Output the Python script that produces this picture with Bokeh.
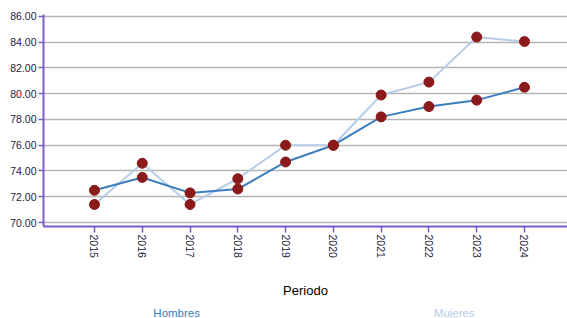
from bokeh.plotting import figure
from bokeh.models import FixedTicker, NumeralTickFormatter, Range1d
from bokeh.layouts import column
from bokeh.core.properties import value
from bokeh.embed import file_html
from bokeh.resources import INLINE

years = [2015, 2016, 2017, 2018, 2019, 2020, 2021, 2022, 2023, 2024]
hombres = [72.5, 73.5, 72.3, 72.6, 74.7, 76.0, 78.2, 79.0, 79.5, 80.5]
mujeres = [71.4, 74.6, 71.4, 73.4, 76.0, 76.0, 79.9, 80.9, 84.4, 84.05]
y_ticks = [70, 72, 74, 76, 78, 80, 82, 84, 86]
series_names = ["Hombres", "Mujeres"]
legend_x = [2016.72, 2022.53]

FONT = "Liberation Sans"
AXIS_COLOR = "#7b5cc6"
H_COLOR = "#3d7dbd"
M_COLOR = "#b6cce8"
DOT = "#8b1a1a"

xr = Range1d(2013.933, 2024.9)
p = figure(width=567, height=300, output_backend="svg", toolbar_location=None,
           x_range=xr, y_range=Range1d(69.69, 86.15),
           min_border_left=43, min_border_right=0, min_border_top=14, min_border_bottom=72)
p.outline_line_color = None
p.background_fill_color = "white"

p.line(years, mujeres, line_color=M_COLOR, line_width=2)
p.line(years, hombres, line_color=H_COLOR, line_width=2)
p.scatter(years, mujeres, size=10, fill_color=DOT, line_color=DOT)
p.scatter(years, hombres, size=10, fill_color=DOT, line_color=DOT)

# y axis
p.yaxis.ticker = FixedTicker(ticks=y_ticks)
p.yaxis.formatter = NumeralTickFormatter(format="0.00")
p.yaxis.axis_line_color = AXIS_COLOR
p.yaxis.axis_line_width = 2
p.yaxis.major_tick_line_color = AXIS_COLOR
p.yaxis.major_tick_line_width = 1.5
p.yaxis.major_tick_out = 5
p.yaxis.major_tick_in = 0
p.yaxis.minor_tick_line_color = None
p.yaxis.major_label_text_font = FONT
p.yaxis.major_label_text_font_size = "10.5px"
p.yaxis.major_label_text_color = "#1c1c3c"
p.yaxis.major_label_standoff = 2

# x axis
p.xaxis.ticker = FixedTicker(ticks=years)
p.xaxis.major_label_orientation = "vertical"
p.xaxis.axis_line_color = AXIS_COLOR
p.xaxis.axis_line_width = 2
p.xaxis.major_tick_line_color = AXIS_COLOR
p.xaxis.major_tick_line_width = 1.5
p.xaxis.major_tick_out = 6
p.xaxis.major_tick_in = 0
p.xaxis.minor_tick_line_color = None
p.xaxis.major_label_text_font = FONT
p.xaxis.major_label_text_font_size = "10.5px"
p.xaxis.major_label_text_color = "#1c1c3c"
p.xaxis.major_label_standoff = 2
p.xaxis.axis_label = "Periodo"
p.xaxis.axis_label_text_font = FONT
p.xaxis.axis_label_text_font_style = "normal"
p.xaxis.axis_label_text_font_size = "13px"
p.xaxis.axis_label_text_color = "black"
p.xaxis.axis_label_standoff = 22

p.xgrid.grid_line_color = None
p.ygrid.grid_line_color = "#b4b4b4"
p.ygrid.grid_line_width = 1.5

# legend row
leg = figure(width=567, height=18, output_backend="svg", toolbar_location=None,
             x_range=xr, y_range=Range1d(0, 1),
             min_border_left=43, min_border_right=0, min_border_top=0, min_border_bottom=0)
leg.axis.visible = False
leg.grid.visible = False
leg.outline_line_color = None
leg.text(x=legend_x, y=[0.28, 0.28], text=series_names,
         text_color=[H_COLOR, M_COLOR], text_font=value(FONT),
         text_font_size="11.5px", text_align="center", text_baseline="middle")

open("out.html", "w").write(file_html(column(p, leg, spacing=0), INLINE))
